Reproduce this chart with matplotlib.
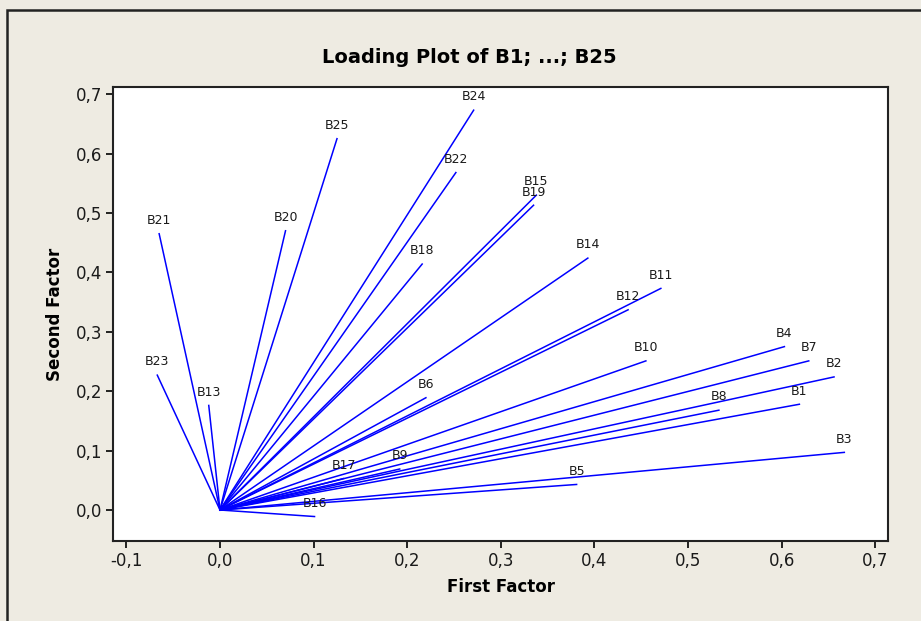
import matplotlib
matplotlib.use("Agg")
import matplotlib.pyplot as plt
from matplotlib.patches import Rectangle

# loadings
names = ["B1", "B2", "B3", "B4", "B5", "B6", "B7", "B8", "B9", "B10",
         "B11", "B12", "B13", "B14", "B15", "B16", "B17", "B18", "B19", "B20",
         "B21", "B22", "B23", "B24", "B25"]
first = [0.619, 0.656, 0.667, 0.603, 0.381, 0.220, 0.629, 0.533, 0.192, 0.455,
         0.471, 0.436, -0.012, 0.393, 0.338, 0.101, 0.132, 0.216, 0.335, 0.070,
         -0.065, 0.252, -0.067, 0.271, 0.125]
second = [0.178, 0.224, 0.097, 0.275, 0.043, 0.189, 0.251, 0.168, 0.069, 0.251,
          0.373, 0.337, 0.176, 0.424, 0.530, -0.011, 0.053, 0.414, 0.513, 0.470,
          0.465, 0.568, 0.227, 0.673, 0.625]

xticks = [-0.1, 0.0, 0.1, 0.2, 0.3, 0.4, 0.5, 0.6, 0.7]
yticks = [0.0, 0.1, 0.2, 0.3, 0.4, 0.5, 0.6, 0.7]

bg = "#eeebe2"

fig = plt.figure(figsize=(9.21, 6.21), dpi=100, facecolor=bg)
ax = fig.add_axes([0.1227, 0.1288, 0.8415, 0.7311])
ax.set_facecolor("white")

for n, x, y in zip(names, first, second):
    ax.plot([0, x], [0, y], color="#0000ff", lw=1.1)
    ax.annotate(n, (x, y), xytext=(0, 7), textcoords="offset points",
                ha="center", va="baseline", fontsize=9, color="#1a1a1a")

ax.set_xlim(-0.1143, 0.7137)
ax.set_ylim(-0.0522, 0.712)
ax.set_xticks(xticks)
ax.set_yticks(yticks)
ax.set_xticklabels([f"{t:.1f}".replace(".", ",") for t in xticks])
ax.set_yticklabels([f"{t:.1f}".replace(".", ",") for t in yticks])
ax.tick_params(direction="out", length=5, width=1.2, labelsize=12, pad=3,
               labelcolor="#1a1a1a")
for s in ax.spines.values():
    s.set_linewidth(1.5)
    s.set_color("#222222")

ax.set_xlabel("First Factor", fontsize=12, fontweight="bold", labelpad=6)
ax.set_ylabel("Second Factor", fontsize=12, fontweight="bold", labelpad=8)
fig.text(0.51, 0.908, "Loading Plot of B1; ...; B25", ha="center", va="center",
         fontsize=14, fontweight="bold")

# outer frame around the graph
fig.add_artist(Rectangle((7 / 921, -0.1), 1.2, 1 - 10 / 621 + 0.1,
                         transform=fig.transFigure, fill=False,
                         edgecolor="#222222", lw=1.8))

fig.savefig("out.png", dpi=100, facecolor=bg)
